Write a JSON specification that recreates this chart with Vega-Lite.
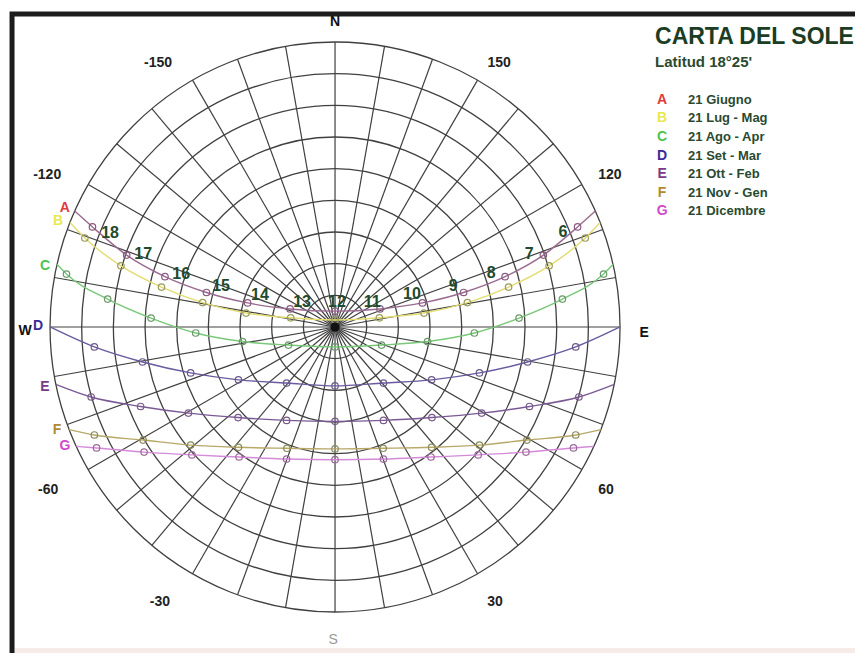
{
  "$schema": "https://vega.github.io/schema/vega-lite/v6.json",
  "width": 855,
  "height": 653,
  "autosize": {"type": "none"},
  "padding": 0,
  "background": "white",
  "config": {"view": {"stroke": null}, "font": "Liberation Sans"},
  "datasets": {
    "band": [{"x": -101, "x2": 175, "y": -101.4, "y2": -110}],
    "frame": [{"x": -102.0, "x2": 175, "y": 98.84, "y2": -110}],
    "spokes": [
      {"az": 0, "x": 0, "y": 0, "x2": 0, "y2": 90},
      {"az": 10, "x": 0, "y": 0, "x2": 15.628, "y2": 88.633},
      {"az": 20, "x": 0, "y": 0, "x2": 30.782, "y2": 84.572},
      {"az": 30, "x": 0, "y": 0, "x2": 45, "y2": 77.942},
      {"az": 40, "x": 0, "y": 0, "x2": 57.851, "y2": 68.944},
      {"az": 50, "x": 0, "y": 0, "x2": 68.944, "y2": 57.851},
      {"az": 60, "x": 0, "y": 0, "x2": 77.942, "y2": 45},
      {"az": 70, "x": 0, "y": 0, "x2": 84.572, "y2": 30.782},
      {"az": 80, "x": 0, "y": 0, "x2": 88.633, "y2": 15.628},
      {"az": 90, "x": 0, "y": 0, "x2": 90, "y2": 0},
      {"az": 100, "x": 0, "y": 0, "x2": 88.633, "y2": -15.628},
      {"az": 110, "x": 0, "y": 0, "x2": 84.572, "y2": -30.782},
      {"az": 120, "x": 0, "y": 0, "x2": 77.942, "y2": -45},
      {"az": 130, "x": 0, "y": 0, "x2": 68.944, "y2": -57.851},
      {"az": 140, "x": 0, "y": 0, "x2": 57.851, "y2": -68.944},
      {"az": 150, "x": 0, "y": 0, "x2": 45, "y2": -77.942},
      {"az": 160, "x": 0, "y": 0, "x2": 30.782, "y2": -84.572},
      {"az": 170, "x": 0, "y": 0, "x2": 15.628, "y2": -88.633},
      {"az": 180, "x": 0, "y": 0, "x2": 0, "y2": -90},
      {"az": 190, "x": 0, "y": 0, "x2": -15.628, "y2": -88.633},
      {"az": 200, "x": 0, "y": 0, "x2": -30.782, "y2": -84.572},
      {"az": 210, "x": 0, "y": 0, "x2": -45, "y2": -77.942},
      {"az": 220, "x": 0, "y": 0, "x2": -57.851, "y2": -68.944},
      {"az": 230, "x": 0, "y": 0, "x2": -68.944, "y2": -57.851},
      {"az": 240, "x": 0, "y": 0, "x2": -77.942, "y2": -45},
      {"az": 250, "x": 0, "y": 0, "x2": -84.572, "y2": -30.782},
      {"az": 260, "x": 0, "y": 0, "x2": -88.633, "y2": -15.628},
      {"az": 270, "x": 0, "y": 0, "x2": -90, "y2": 0},
      {"az": 280, "x": 0, "y": 0, "x2": -88.633, "y2": 15.628},
      {"az": 290, "x": 0, "y": 0, "x2": -84.572, "y2": 30.782},
      {"az": 300, "x": 0, "y": 0, "x2": -77.942, "y2": 45},
      {"az": 310, "x": 0, "y": 0, "x2": -68.944, "y2": 57.851},
      {"az": 320, "x": 0, "y": 0, "x2": -57.851, "y2": 68.944},
      {"az": 330, "x": 0, "y": 0, "x2": -45, "y2": 77.942},
      {"az": 340, "x": 0, "y": 0, "x2": -30.782, "y2": 84.572},
      {"az": 350, "x": 0, "y": 0, "x2": -15.628, "y2": 88.633}
    ],
    "rings": [
      {"zd": 10, "x": 0, "y": 0}, {"zd": 20, "x": 0, "y": 0}, {"zd": 30, "x": 0, "y": 0},
      {"zd": 40, "x": 0, "y": 0}, {"zd": 50, "x": 0, "y": 0}, {"zd": 60, "x": 0, "y": 0},
      {"zd": 70, "x": 0, "y": 0}, {"zd": 80, "x": 0, "y": 0}, {"zd": 90, "x": 0, "y": 0}
    ],
    "sun": [
      {"serie": "A", "x": -82.2, "y": 36.6},
      {"serie": "A", "ora": 18, "x": -76.6, "y": 31.6},
      {"serie": "A", "ora": 17, "x": -65.8, "y": 22.7},
      {"serie": "A", "ora": 16, "x": -53.7, "y": 15.9},
      {"serie": "A", "ora": 15, "x": -40.6, "y": 10.9},
      {"serie": "A", "ora": 14, "x": -27.6, "y": 7.6},
      {"serie": "A", "ora": 13, "x": -14.2, "y": 5.7},
      {"serie": "A", "ora": 12, "x": 0, "y": 5.0},
      {"serie": "A", "ora": 11, "x": 14.2, "y": 5.7},
      {"serie": "A", "ora": 10, "x": 27.6, "y": 7.6},
      {"serie": "A", "ora": 9, "x": 40.6, "y": 10.9},
      {"serie": "A", "ora": 8, "x": 53.7, "y": 15.9},
      {"serie": "A", "ora": 7, "x": 65.8, "y": 22.7},
      {"serie": "A", "ora": 6, "x": 76.6, "y": 31.6},
      {"serie": "A", "x": 82.2, "y": 36.6},

      {"serie": "B", "x": -83.7, "y": 33.0},
      {"serie": "B", "ora": 18, "x": -79.0, "y": 28.1},
      {"serie": "B", "ora": 17, "x": -67.6, "y": 19.3},
      {"serie": "B", "ora": 16, "x": -54.8, "y": 12.6},
      {"serie": "B", "ora": 15, "x": -41.8, "y": 7.7},
      {"serie": "B", "ora": 14, "x": -28.1, "y": 4.4},
      {"serie": "B", "ora": 13, "x": -14.0, "y": 2.9},
      {"serie": "B", "ora": 12, "x": 0, "y": 2.2},
      {"serie": "B", "ora": 11, "x": 14.0, "y": 2.9},
      {"serie": "B", "ora": 10, "x": 28.1, "y": 4.4},
      {"serie": "B", "ora": 9, "x": 41.8, "y": 7.7},
      {"serie": "B", "ora": 8, "x": 54.8, "y": 12.6},
      {"serie": "B", "ora": 7, "x": 67.6, "y": 19.3},
      {"serie": "B", "ora": 6, "x": 79.0, "y": 28.1},
      {"serie": "B", "x": 83.7, "y": 33.0},

      {"serie": "C", "x": -87.8, "y": 19.8},
      {"serie": "C", "ora": 18, "x": -84.8, "y": 16.7},
      {"serie": "C", "ora": 17, "x": -71.8, "y": 8.8},
      {"serie": "C", "ora": 16, "x": -58.1, "y": 2.8},
      {"serie": "C", "ora": 15, "x": -44.0, "y": -1.9},
      {"serie": "C", "ora": 14, "x": -29.2, "y": -4.6},
      {"serie": "C", "ora": 13, "x": -14.7, "y": -5.7},
      {"serie": "C", "ora": 12, "x": 0, "y": -6.3},
      {"serie": "C", "ora": 11, "x": 14.7, "y": -5.7},
      {"serie": "C", "ora": 10, "x": 29.2, "y": -4.6},
      {"serie": "C", "ora": 9, "x": 44.0, "y": -1.9},
      {"serie": "C", "ora": 8, "x": 58.1, "y": 2.8},
      {"serie": "C", "ora": 7, "x": 71.8, "y": 8.8},
      {"serie": "C", "ora": 6, "x": 84.8, "y": 16.7},
      {"serie": "C", "x": 87.8, "y": 19.8},

      {"serie": "D", "x": -90, "y": 0},
      {"serie": "D", "ora": 17, "x": -76.0, "y": -6.3},
      {"serie": "D", "ora": 16, "x": -60.8, "y": -11.05},
      {"serie": "D", "ora": 15, "x": -45.6, "y": -14.5},
      {"serie": "D", "ora": 14, "x": -30.5, "y": -16.7},
      {"serie": "D", "ora": 13, "x": -15.3, "y": -17.7},
      {"serie": "D", "ora": 12, "x": 0, "y": -18.6},
      {"serie": "D", "ora": 11, "x": 15.3, "y": -17.7},
      {"serie": "D", "ora": 10, "x": 30.5, "y": -16.7},
      {"serie": "D", "ora": 9, "x": 45.6, "y": -14.5},
      {"serie": "D", "ora": 8, "x": 60.8, "y": -11.05},
      {"serie": "D", "ora": 7, "x": 76.0, "y": -6.3},
      {"serie": "D", "x": 90, "y": 0},

      {"serie": "E", "x": -88.2, "y": -18.1},
      {"serie": "E", "ora": 17, "x": -77.0, "y": -22.1},
      {"serie": "E", "ora": 16, "x": -61.4, "y": -25.1},
      {"serie": "E", "ora": 15, "x": -46.3, "y": -27.2},
      {"serie": "E", "ora": 14, "x": -30.6, "y": -28.6},
      {"serie": "E", "ora": 13, "x": -15.3, "y": -29.5},
      {"serie": "E", "ora": 12, "x": 0, "y": -29.8},
      {"serie": "E", "ora": 11, "x": 15.3, "y": -29.5},
      {"serie": "E", "ora": 10, "x": 30.6, "y": -28.6},
      {"serie": "E", "ora": 9, "x": 46.3, "y": -27.2},
      {"serie": "E", "ora": 8, "x": 61.4, "y": -25.1},
      {"serie": "E", "ora": 7, "x": 77.0, "y": -22.1},
      {"serie": "E", "x": 88.2, "y": -18.1},

      {"serie": "F", "x": -84.0, "y": -32.4},
      {"serie": "F", "ora": 17, "x": -76.0, "y": -34.1},
      {"serie": "F", "ora": 16, "x": -60.6, "y": -35.7},
      {"serie": "F", "ora": 15, "x": -45.6, "y": -37.3},
      {"serie": "F", "ora": 14, "x": -30.5, "y": -38.0},
      {"serie": "F", "ora": 13, "x": -15.2, "y": -38.3},
      {"serie": "F", "ora": 12, "x": 0, "y": -38.5},
      {"serie": "F", "ora": 11, "x": 15.2, "y": -38.3},
      {"serie": "F", "ora": 10, "x": 30.5, "y": -38.0},
      {"serie": "F", "ora": 9, "x": 45.6, "y": -37.3},
      {"serie": "F", "ora": 8, "x": 60.6, "y": -35.7},
      {"serie": "F", "ora": 7, "x": 76.0, "y": -34.1},
      {"serie": "F", "x": 84.0, "y": -32.4},

      {"serie": "G", "x": -81.7, "y": -37.7},
      {"serie": "G", "ora": 17, "x": -75.3, "y": -38.2},
      {"serie": "G", "ora": 16, "x": -60.3, "y": -39.5},
      {"serie": "G", "ora": 15, "x": -45.2, "y": -40.4},
      {"serie": "G", "ora": 14, "x": -30.3, "y": -41.05},
      {"serie": "G", "ora": 13, "x": -15.3, "y": -41.7},
      {"serie": "G", "ora": 12, "x": 0, "y": -41.9},
      {"serie": "G", "ora": 11, "x": 15.3, "y": -41.7},
      {"serie": "G", "ora": 10, "x": 30.3, "y": -41.05},
      {"serie": "G", "ora": 9, "x": 45.2, "y": -40.4},
      {"serie": "G", "ora": 8, "x": 60.3, "y": -39.5},
      {"serie": "G", "ora": 7, "x": 75.3, "y": -38.2},
      {"serie": "G", "x": 81.7, "y": -37.7}
    ],
    "hours": [
      {"t": "18", "x": -71.05, "y": 29.7},
      {"t": "17", "x": -60.6, "y": 23.05},
      {"t": "16", "x": -48.6, "y": 16.7},
      {"t": "15", "x": -36.0, "y": 12.95},
      {"t": "14", "x": -23.7, "y": 10.1},
      {"t": "13", "x": -10.4, "y": 7.9},
      {"t": "12", "x": 0.6, "y": 7.9},
      {"t": "11", "x": 11.7, "y": 7.9},
      {"t": "10", "x": 24.3, "y": 10.4},
      {"t": "9", "x": 37.3, "y": 12.95},
      {"t": "8", "x": 49.3, "y": 17.05},
      {"t": "7", "x": 61.3, "y": 23.05},
      {"t": "6", "x": 72.0, "y": 30.0}
    ],
    "letters": [
      {"serie": "A", "x": -85.3, "y": 37.6},
      {"serie": "B", "x": -87.5, "y": 33.5},
      {"serie": "C", "x": -91.6, "y": 19.3},
      {"serie": "D", "x": -93.8, "y": 0.3},
      {"serie": "E", "x": -91.6, "y": -19.0},
      {"serie": "F", "x": -87.8, "y": -32.5},
      {"serie": "G", "x": -85.3, "y": -37.6},
      {"serie": "A", "x": 103.3, "y": 71.7},
      {"serie": "B", "x": 103.3, "y": 66.0},
      {"serie": "C", "x": 103.3, "y": 60.0},
      {"serie": "D", "x": 103.3, "y": 54.0},
      {"serie": "E", "x": 103.3, "y": 48.3},
      {"serie": "F", "x": 103.3, "y": 42.3},
      {"serie": "G", "x": 103.3, "y": 36.6}
    ],
    "legendText": [
      {"t": "21 Giugno", "x": 111.5, "y": 71.7},
      {"t": "21 Lug - Mag", "x": 111.5, "y": 66.0},
      {"t": "21 Ago - Apr", "x": 111.5, "y": 60.0},
      {"t": "21 Set - Mar", "x": 111.5, "y": 54.0},
      {"t": "21 Ott - Feb", "x": 111.5, "y": 48.3},
      {"t": "21 Nov - Gen", "x": 111.5, "y": 42.3},
      {"t": "21 Dicembre", "x": 111.5, "y": 36.6}
    ],
    "compass": [
      {"t": "N", "x": 0, "y": 96.3},
      {"t": "W", "x": -97.9, "y": -1.3},
      {"t": "E", "x": 97.6, "y": -1.9}
    ],
    "south": [{"t": "S", "x": -0.6, "y": -98.8}],
    "azim": [
      {"t": "-150", "x": -55.9, "y": 83.4},
      {"t": "150", "x": 51.8, "y": 83.4},
      {"t": "-120", "x": -90.9, "y": 48.0},
      {"t": "120", "x": 86.8, "y": 48.0},
      {"t": "-60", "x": -90.6, "y": -51.5},
      {"t": "60", "x": 85.6, "y": -51.5},
      {"t": "-30", "x": -55.3, "y": -86.8},
      {"t": "30", "x": 50.5, "y": -86.8}
    ],
    "title": [{"t": "CARTA DEL SOLE", "x": 101.05, "y": 91.6}],
    "subtitle": [{"t": "Latitud 18°25'", "x": 101.05, "y": 83.7}],
    "center": [{"x": 0, "y": 0}]
  },
  "encoding": {
    "x": {"field": "x", "type": "quantitative", "scale": {"domain": [-105.8, 164.2], "nice": false, "zero": false}, "axis": null},
    "y": {"field": "y", "type": "quantitative", "scale": {"domain": [-102.95, 103.26], "nice": false, "zero": false}, "axis": null}
  },
  "layer": [
    {
      "data": {"name": "band"},
      "mark": {"type": "rect", "fill": "#f6ebe7", "clip": true},
      "encoding": {"x2": {"field": "x2"}, "y2": {"field": "y2"}}
    },
    {
      "data": {"name": "frame"},
      "mark": {"type": "rect", "filled": false, "stroke": "#1c1c1c", "strokeWidth": 5, "clip": true},
      "encoding": {"x2": {"field": "x2"}, "y2": {"field": "y2"}}
    },
    {
      "data": {"name": "spokes"},
      "mark": {"type": "rule", "stroke": "#404040", "strokeWidth": 1.2},
      "encoding": {"x2": {"field": "x2"}, "y2": {"field": "y2"}}
    },
    {
      "data": {"name": "rings"},
      "mark": {"type": "point", "shape": "circle", "filled": false, "stroke": "#404040", "strokeWidth": 1.3, "opacity": 1},
      "encoding": {
        "size": {"field": "zd", "type": "quantitative", "legend": null,
          "scale": {"type": "pow", "exponent": 2, "domain": [0, 90], "range": [0, 324900], "zero": true}}
      }
    },
    {
      "data": {"name": "sun"},
      "mark": {"type": "line", "interpolate": "monotone", "strokeWidth": 1.4},
      "encoding": {
        "stroke": {"field": "serie", "type": "nominal", "legend": null,
          "scale": {"domain": ["A", "B", "C", "D", "E", "F", "G"], "range": ["#9a6a90", "#e4dc70", "#78c878", "#6a5aa0", "#7a5a95", "#b8a868", "#d48ad8"]}}
      }
    },
    {
      "data": {"name": "sun"},
      "transform": [{"filter": "isValid(datum.ora)"}],
      "mark": {"type": "point", "shape": "circle", "filled": false, "size": 42, "strokeWidth": 1.2, "opacity": 1},
      "encoding": {
        "color": {"field": "serie", "type": "nominal", "legend": null,
          "scale": {"domain": ["A", "B", "C", "D", "E", "F", "G"], "range": ["#8a5a80", "#9a9a5a", "#6a9a6a", "#6a5a8a", "#7a5a8a", "#8a8a5a", "#9a6a9a"]}}
      }
    },
    {
      "data": {"name": "center"},
      "mark": {"type": "point", "shape": "circle", "filled": true, "color": "#111111", "size": 80, "opacity": 1}
    },
    {
      "data": {"name": "hours"},
      "mark": {"type": "text", "fontSize": 16, "fontWeight": "bold", "fill": "#1f4a2c"},
      "encoding": {"text": {"field": "t"}}
    },
    {
      "data": {"name": "letters"},
      "mark": {"type": "text", "fontSize": 14, "fontWeight": "bold"},
      "encoding": {
        "text": {"field": "serie"},
        "fill": {"field": "serie", "type": "nominal", "legend": null,
          "scale": {"domain": ["A", "B", "C", "D", "E", "F", "G"], "range": ["#e03a3a", "#e8e850", "#4cc44c", "#3a2a9a", "#7a3a8a", "#b08a30", "#d04ad0"]}}
      }
    },
    {
      "data": {"name": "legendText"},
      "mark": {"type": "text", "fontSize": 13, "fontWeight": "bold", "fill": "#2a4a30", "align": "left"},
      "encoding": {"text": {"field": "t"}}
    },
    {
      "data": {"name": "compass"},
      "mark": {"type": "text", "fontSize": 14, "fontWeight": "bold", "fill": "#111111"},
      "encoding": {"text": {"field": "t"}}
    },
    {
      "data": {"name": "south"},
      "mark": {"type": "text", "fontSize": 14, "fill": "#9a9a9a"},
      "encoding": {"text": {"field": "t"}}
    },
    {
      "data": {"name": "azim"},
      "mark": {"type": "text", "fontSize": 14, "fontWeight": "bold", "fill": "#222222"},
      "encoding": {"text": {"field": "t"}}
    },
    {
      "data": {"name": "title"},
      "mark": {"type": "text", "fontSize": 23, "fontWeight": "bold", "fill": "#1b3d24", "align": "left"},
      "encoding": {"text": {"field": "t"}}
    },
    {
      "data": {"name": "subtitle"},
      "mark": {"type": "text", "fontSize": 15, "fontWeight": "bold", "fill": "#2a4a30", "align": "left"},
      "encoding": {"text": {"field": "t"}}
    }
  ]
}
